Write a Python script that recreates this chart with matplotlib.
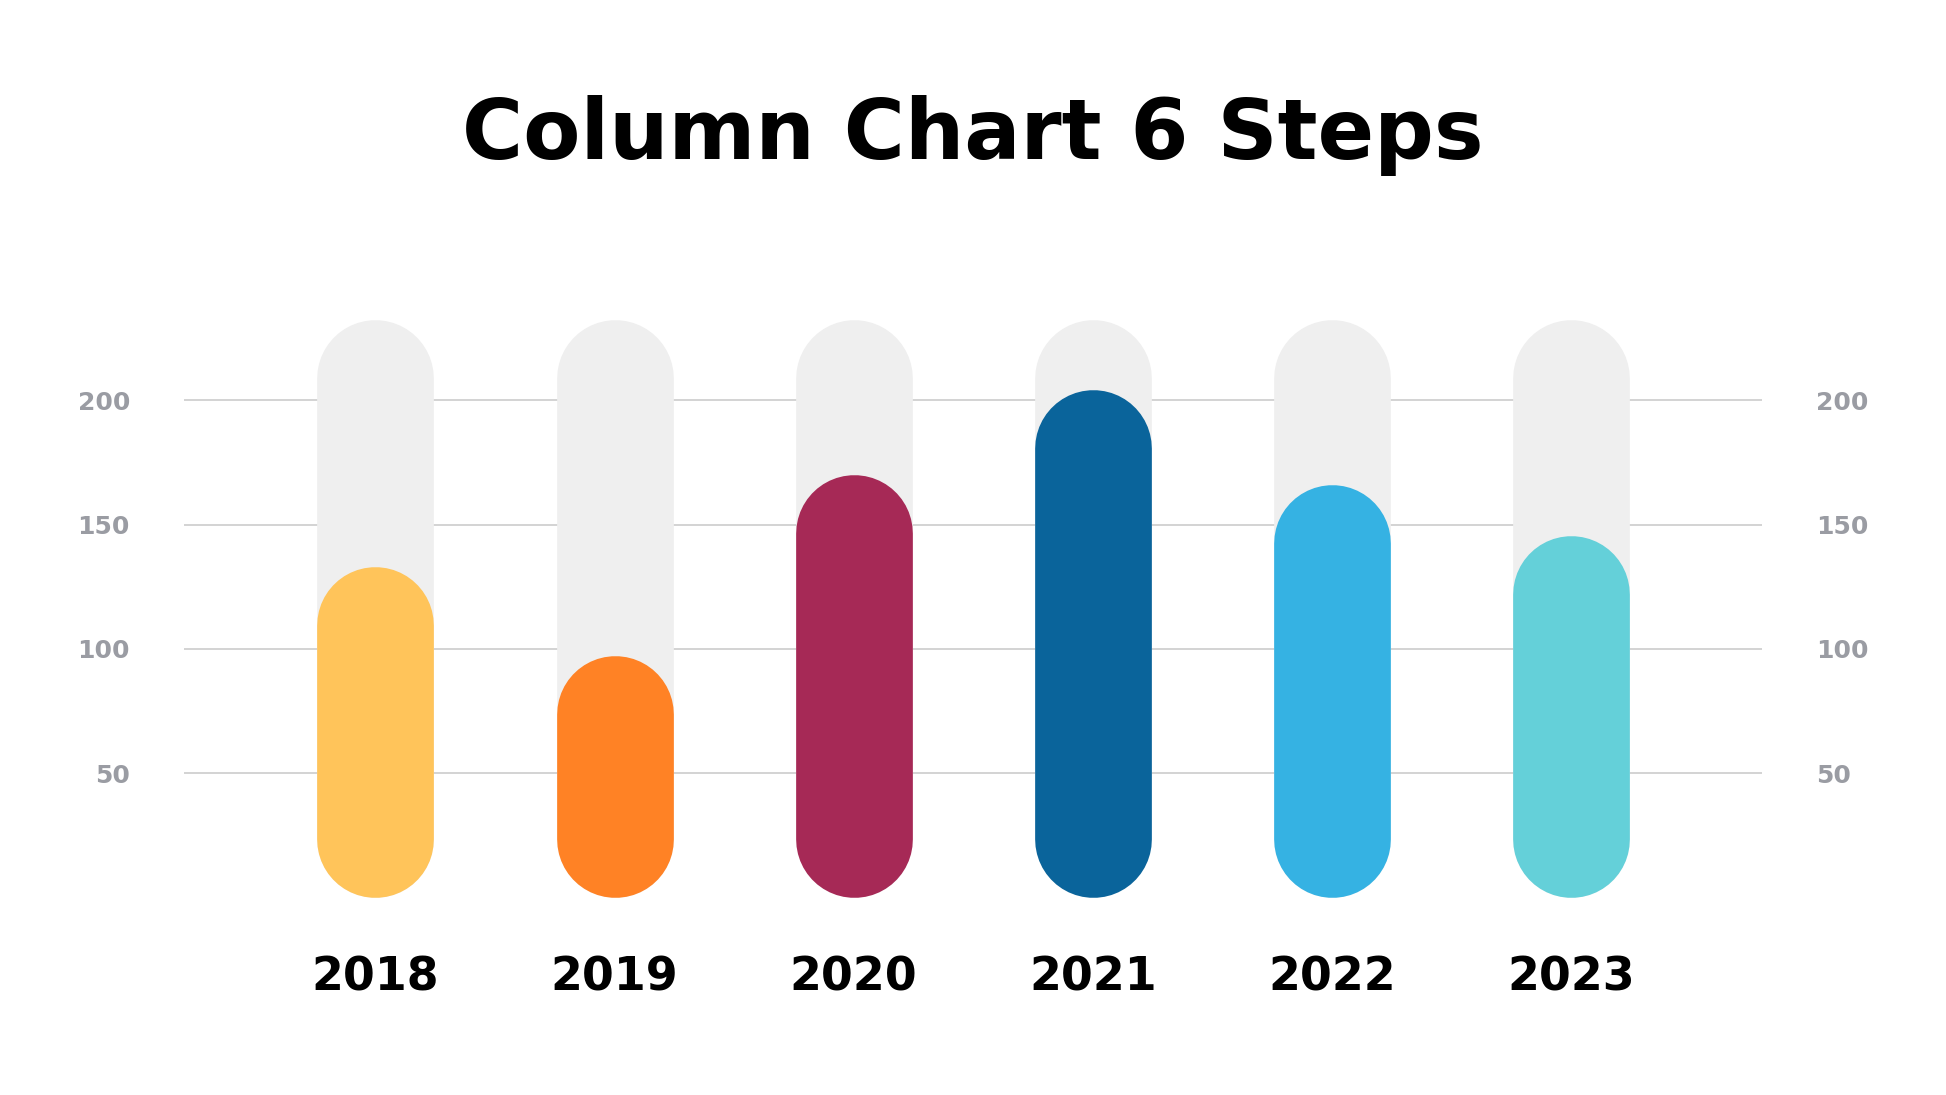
import matplotlib.pyplot as plt

years = ['2018', '2019', '2020', '2021', '2022', '2023']
values = [133, 97.5, 170, 204.5, 166, 145.5]
track = 232.5
colors = ['#FFC45A', '#FF8225', '#A62956', '#0A649B', '#35B2E3', '#64D0D9']
yticks = [50, 100, 150, 200]

plt.rcParams['font.family'] = ['DejaVu Sans']

fig = plt.figure(figsize=(19.46, 10.95), dpi=100)
ax = fig.add_axes([0.0946, 0.1803, 0.811, 0.5449])
ax.set_xlim(-0.8, 5.8)
ax.set_ylim(0, 240)

# bar width in pixels -> line width in points, radius in data units
bar_px = 116.7
lw = bar_px * 72 / fig.dpi
ax_h_px = fig.get_figheight() * fig.dpi * 0.5449
r = (bar_px / 2) / (ax_h_px / 240)

for y in yticks:
    ax.axhline(y, color='#CCCCCC', lw=1.2, zorder=1)

for i, v in enumerate(values):
    ax.plot([i, i], [r, track - r], color='#EFEFEF', lw=lw,
            solid_capstyle='round', zorder=2, clip_on=False)
    ax.plot([i, i], [r, v - r], color=colors[i], lw=lw,
            solid_capstyle='round', zorder=3, clip_on=False)
    ax.text(i, -32.5, years[i], ha='center', va='center', fontsize=33,
            fontweight='bold', color='black')

ax.set_yticks(yticks)
ax.set_yticklabels([str(t) for t in yticks])
ax.set_xticks([])
ax.tick_params(axis='y', length=0, pad=39, labelsize=18, labelcolor='#9A9CA3',
               labelright=True)
for lab in ax.get_yticklabels():
    lab.set_fontweight('bold')
for side in ax.spines.values():
    side.set_visible(False)

fig.text(0.5, 1 - 135 / 1095, 'Column Chart 6 Steps', ha='center', va='center',
         fontsize=60, fontweight='bold', color='black')

fig.savefig('out.png', dpi=100, facecolor='white')
